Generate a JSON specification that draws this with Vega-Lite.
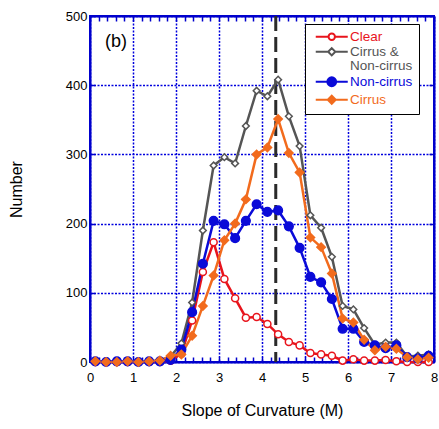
{
  "$schema": "https://vega.github.io/schema/vega-lite/v6.json",
  "width": 344,
  "height": 346,
  "autosize": {"type": "none"},
  "padding": {"left": 90, "top": 16, "right": 5, "bottom": 67},
  "background": "white",
  "config": {
    "view": {"stroke": "#0000cc", "strokeWidth": 2},
    "font": "Liberation Sans",
    "axis": {"labelFont": "Liberation Sans", "titleFont": "Liberation Sans", "labelColor": "black", "titleColor": "black", "titleFontWeight": "normal", "domainColor": "#0000cc", "domainWidth": 2, "tickColor": "#0000cc", "tickWidth": 1.5}
  },
  "datasets": {
    "pts": [
      {"x":0.125,"series":"Cirrus & Non-cirrus","n":1},{"x":0.375,"series":"Cirrus & Non-cirrus","n":0},{"x":0.625,"series":"Cirrus & Non-cirrus","n":1},{"x":0.875,"series":"Cirrus & Non-cirrus","n":1},
      {"x":1.125,"series":"Cirrus & Non-cirrus","n":0},{"x":1.375,"series":"Cirrus & Non-cirrus","n":1},{"x":1.625,"series":"Cirrus & Non-cirrus","n":2},{"x":1.875,"series":"Cirrus & Non-cirrus","n":8},
      {"x":2.125,"series":"Cirrus & Non-cirrus","n":27},{"x":2.375,"series":"Cirrus & Non-cirrus","n":86},{"x":2.625,"series":"Cirrus & Non-cirrus","n":190},{"x":2.875,"series":"Cirrus & Non-cirrus","n":284},
      {"x":3.125,"series":"Cirrus & Non-cirrus","n":296},{"x":3.375,"series":"Cirrus & Non-cirrus","n":287},{"x":3.625,"series":"Cirrus & Non-cirrus","n":341},{"x":3.875,"series":"Cirrus & Non-cirrus","n":392},
      {"x":4.125,"series":"Cirrus & Non-cirrus","n":384},{"x":4.375,"series":"Cirrus & Non-cirrus","n":408},{"x":4.625,"series":"Cirrus & Non-cirrus","n":355},{"x":4.875,"series":"Cirrus & Non-cirrus","n":312},
      {"x":5.125,"series":"Cirrus & Non-cirrus","n":212},{"x":5.375,"series":"Cirrus & Non-cirrus","n":194},{"x":5.625,"series":"Cirrus & Non-cirrus","n":152},{"x":5.875,"series":"Cirrus & Non-cirrus","n":81},
      {"x":6.125,"series":"Cirrus & Non-cirrus","n":76},{"x":6.375,"series":"Cirrus & Non-cirrus","n":49},{"x":6.625,"series":"Cirrus & Non-cirrus","n":25},{"x":6.875,"series":"Cirrus & Non-cirrus","n":28},
      {"x":7.125,"series":"Cirrus & Non-cirrus","n":28},{"x":7.375,"series":"Cirrus & Non-cirrus","n":8},{"x":7.625,"series":"Cirrus & Non-cirrus","n":9},{"x":7.875,"series":"Cirrus & Non-cirrus","n":11},

      {"x":0.125,"series":"Clear","n":0},{"x":0.375,"series":"Clear","n":0},{"x":0.625,"series":"Clear","n":0},{"x":0.875,"series":"Clear","n":0},
      {"x":1.125,"series":"Clear","n":0},{"x":1.375,"series":"Clear","n":0},{"x":1.625,"series":"Clear","n":0},{"x":1.875,"series":"Clear","n":2},
      {"x":2.125,"series":"Clear","n":12},{"x":2.375,"series":"Clear","n":60},{"x":2.625,"series":"Clear","n":130},{"x":2.875,"series":"Clear","n":173},
      {"x":3.125,"series":"Clear","n":120},{"x":3.375,"series":"Clear","n":92},{"x":3.625,"series":"Clear","n":64},{"x":3.875,"series":"Clear","n":65},
      {"x":4.125,"series":"Clear","n":55},{"x":4.375,"series":"Clear","n":40},{"x":4.625,"series":"Clear","n":29},{"x":4.875,"series":"Clear","n":24},
      {"x":5.125,"series":"Clear","n":13},{"x":5.375,"series":"Clear","n":11},{"x":5.625,"series":"Clear","n":9},{"x":5.875,"series":"Clear","n":2},
      {"x":6.125,"series":"Clear","n":4},{"x":6.375,"series":"Clear","n":2},{"x":6.625,"series":"Clear","n":2},{"x":6.875,"series":"Clear","n":3},
      {"x":7.125,"series":"Clear","n":1},{"x":7.375,"series":"Clear","n":0},{"x":7.625,"series":"Clear","n":0},{"x":7.875,"series":"Clear","n":0},

      {"x":0.125,"series":"Non-cirrus","n":1},{"x":0.375,"series":"Non-cirrus","n":0},{"x":0.625,"series":"Non-cirrus","n":1},{"x":0.875,"series":"Non-cirrus","n":1},
      {"x":1.125,"series":"Non-cirrus","n":0},{"x":1.375,"series":"Non-cirrus","n":1},{"x":1.625,"series":"Non-cirrus","n":1},{"x":1.875,"series":"Non-cirrus","n":3},
      {"x":2.125,"series":"Non-cirrus","n":18},{"x":2.375,"series":"Non-cirrus","n":72},{"x":2.625,"series":"Non-cirrus","n":142},{"x":2.875,"series":"Non-cirrus","n":204},
      {"x":3.125,"series":"Non-cirrus","n":199},{"x":3.375,"series":"Non-cirrus","n":179},{"x":3.625,"series":"Non-cirrus","n":204},{"x":3.875,"series":"Non-cirrus","n":228},
      {"x":4.125,"series":"Non-cirrus","n":217},{"x":4.375,"series":"Non-cirrus","n":219},{"x":4.625,"series":"Non-cirrus","n":196},{"x":4.875,"series":"Non-cirrus","n":165},
      {"x":5.125,"series":"Non-cirrus","n":123},{"x":5.375,"series":"Non-cirrus","n":115},{"x":5.625,"series":"Non-cirrus","n":91},{"x":5.875,"series":"Non-cirrus","n":48},
      {"x":6.125,"series":"Non-cirrus","n":48},{"x":6.375,"series":"Non-cirrus","n":29},{"x":6.625,"series":"Non-cirrus","n":24},{"x":6.875,"series":"Non-cirrus","n":20},
      {"x":7.125,"series":"Non-cirrus","n":24},{"x":7.375,"series":"Non-cirrus","n":7},{"x":7.625,"series":"Non-cirrus","n":5},{"x":7.875,"series":"Non-cirrus","n":9},

      {"x":0.125,"series":"Cirrus","n":1},{"x":0.375,"series":"Cirrus","n":0},{"x":0.625,"series":"Cirrus","n":0},{"x":0.875,"series":"Cirrus","n":1},
      {"x":1.125,"series":"Cirrus","n":0},{"x":1.375,"series":"Cirrus","n":1},{"x":1.625,"series":"Cirrus","n":2},{"x":1.875,"series":"Cirrus","n":9},
      {"x":2.125,"series":"Cirrus","n":11},{"x":2.375,"series":"Cirrus","n":38},{"x":2.625,"series":"Cirrus","n":81},{"x":2.875,"series":"Cirrus","n":125},
      {"x":3.125,"series":"Cirrus","n":176},{"x":3.375,"series":"Cirrus","n":200},{"x":3.625,"series":"Cirrus","n":235},{"x":3.875,"series":"Cirrus","n":300},
      {"x":4.125,"series":"Cirrus","n":310},{"x":4.375,"series":"Cirrus","n":351},{"x":4.625,"series":"Cirrus","n":302},{"x":4.875,"series":"Cirrus","n":274},
      {"x":5.125,"series":"Cirrus","n":180},{"x":5.375,"series":"Cirrus","n":166},{"x":5.625,"series":"Cirrus","n":128},{"x":5.875,"series":"Cirrus","n":63},
      {"x":6.125,"series":"Cirrus","n":57},{"x":6.375,"series":"Cirrus","n":32},{"x":6.625,"series":"Cirrus","n":17},{"x":6.875,"series":"Cirrus","n":22},
      {"x":7.125,"series":"Cirrus","n":19},{"x":7.375,"series":"Cirrus","n":7},{"x":7.625,"series":"Cirrus","n":4},{"x":7.875,"series":"Cirrus","n":6}
    ],
    "marker": [{"m": 4.32}],
    "panel": [{"label": "(b)"}]
  },
  "resolve": {"axis": {"x": "independent", "y": "independent"}},
  "layer": [
    {
      "data": {"name": "marker"},
      "mark": {"type": "rule", "stroke": "#2a2a2a", "strokeWidth": 3, "strokeDash": [15, 6]},
      "encoding": {
        "x": {"field": "m", "type": "quantitative", "scale": {"domain": [0, 8], "nice": false}, "axis": null}
      }
    },
    {
      "data": {"name": "pts"},
      "mark": {"type": "line", "strokeWidth": 2.5},
      "encoding": {
        "x": {"field": "x", "type": "quantitative", "scale": {"domain": [0, 8], "nice": false},
          "axis": {"orient": "bottom", "values": [0,0.2,0.4,0.6,0.8,1,1.2,1.4,1.6,1.8,2,2.2,2.4,2.6,2.8,3,3.2,3.4,3.6,3.8,4,4.2,4.4,4.6,4.8,5,5.2,5.4,5.6,5.8,6,6.2,6.4,6.6,6.8,7,7.2,7.4,7.6,7.8,8],
            "labelExpr": "abs(datum.value - round(datum.value)) < 0.01 ? format(datum.value, 'd') : ''",
            "labelFontSize": 13, "labelPadding": 14, "labelFlush": false, "labelOverlap": false,
            "tickSize": -5,
            "grid": true, "gridColor": "#0000dd", "gridDash": [2, 1.5], "gridWidth": 1.5,
            "gridOpacity": {"condition": {"test": "abs(datum.value - round(datum.value)) < 0.01", "value": 1}, "value": 0},
            "title": "Slope of Curvature (M)", "titleFontSize": 16, "titlePadding": 18}},
        "y": {"field": "n", "type": "quantitative", "scale": {"domain": [0, 500], "nice": false},
          "axis": {"orient": "left", "values": [0,100,200,300,400,500], "labelFontSize": 13, "labelPadding": 8,
            "tickSize": -5, "grid": true, "gridColor": "#0000dd", "gridDash": [2, 1.5], "gridWidth": 1.5,
            "title": "Number", "titleFontSize": 16, "titlePadding": 41}},
        "stroke": {"field": "series", "type": "nominal",
          "scale": {"domain": ["Clear", "Cirrus & Non-cirrus", "Non-cirrus", "Cirrus"], "range": ["#e8141c", "#555555", "#0a0ad8", "#f26b1d"]},
          "legend": {
            "orient": "none", "legendX": 215, "legendY": 8, "title": null,
            "fillColor": "white", "strokeColor": "black", "padding": 6,
            "symbolSize": 64, "symbolStrokeWidth": 2, "symbolOffset": 14, "labelOffset": 30,
            "labelFont": "Liberation Sans", "labelFontSize": 13.5, "labelLimit": 300, "rowPadding": 0,
            "labelExpr": "datum.value == 'Cirrus & Non-cirrus' ? ['Cirrus &', 'Non-cirrus'] : datum.label",
            "encode": {
              "symbols": {"update": {
                "shape": {"signal": "datum.value == 'Clear' ? 'M-4,0H-0.8M0.8,0H4M0.8,0A0.8,0.8,0,1,1,-0.8,0A0.8,0.8,0,1,1,0.8,0Z' : datum.value == 'Cirrus & Non-cirrus' ? 'M-4,0H-0.9M0.9,0H4M0,-0.9L0.9,0L0,0.9L-0.9,0Z' : datum.value == 'Non-cirrus' ? 'M-4,0H4M1.1,0A1.1,1.1,0,1,1,-1.1,0A1.1,1.1,0,1,1,1.1,0Z' : 'M-4,0H4M0,-1L1,0L0,1L-1,0Z'"},
                "fill": {"signal": "datum.value == 'Clear' || datum.value == 'Cirrus & Non-cirrus' ? 'white' : scale('stroke', datum.value)"},
                "stroke": {"scale": "stroke", "field": "value"},
                "opacity": {"value": 1}
              }},
              "labels": {"update": {"fill": {"scale": "stroke", "field": "value"}, "x": {"value": 39}, "align": {"value": "left"}, "lineHeight": {"value": 14.5}}}
            }
          }
        }
      }
    },
    {
      "data": {"name": "pts"},
      "transform": [{"filter": "datum.series == 'Cirrus & Non-cirrus'"}],
      "mark": {"type": "point", "shape": "diamond", "fill": "#ffffff", "stroke": "#555555", "strokeWidth": 1.5, "size": 45, "opacity": 1, "fillOpacity": 1},
      "encoding": {
        "x": {"field": "x", "type": "quantitative", "scale": {"domain": [0, 8], "nice": false},
          "axis": {"orient": "top", "values": [0,0.2,0.4,0.6,0.8,1,1.2,1.4,1.6,1.8,2,2.2,2.4,2.6,2.8,3,3.2,3.4,3.6,3.8,4,4.2,4.4,4.6,4.8,5,5.2,5.4,5.6,5.8,6,6.2,6.4,6.6,6.8,7,7.2,7.4,7.6,7.8,8],
            "labels": false, "tickSize": -5, "grid": false, "title": null}},
        "y": {"field": "n", "type": "quantitative", "scale": {"domain": [0, 500], "nice": false},
          "axis": {"orient": "right", "values": [0,100,200,300,400,500], "labels": false, "tickSize": -5, "grid": false, "title": null}}
      }
    },
    {
      "data": {"name": "pts"},
      "transform": [{"filter": "datum.series == 'Clear'"}],
      "mark": {"type": "point", "shape": "circle", "fill": "#ffffff", "stroke": "#e8141c", "strokeWidth": 1.5, "size": 50, "opacity": 1, "fillOpacity": 1},
      "encoding": {
        "x": {"field": "x", "type": "quantitative", "axis": null},
        "y": {"field": "n", "type": "quantitative", "axis": null}
      }
    },
    {
      "data": {"name": "pts"},
      "transform": [{"filter": "datum.series == 'Non-cirrus'"}],
      "mark": {"type": "point", "shape": "circle", "fill": "#0a0ad8", "stroke": "#0a0ad8", "strokeWidth": 1.5, "size": 75, "opacity": 1, "fillOpacity": 1},
      "encoding": {
        "x": {"field": "x", "type": "quantitative", "axis": null},
        "y": {"field": "n", "type": "quantitative", "axis": null}
      }
    },
    {
      "data": {"name": "pts"},
      "transform": [{"filter": "datum.series == 'Cirrus'"}],
      "mark": {"type": "point", "shape": "diamond", "fill": "#f26b1d", "stroke": "#f26b1d", "strokeWidth": 1.5, "size": 70, "opacity": 1, "fillOpacity": 1},
      "encoding": {
        "x": {"field": "x", "type": "quantitative", "axis": null},
        "y": {"field": "n", "type": "quantitative", "axis": null}
      }
    },
    {
      "data": {"name": "panel"},
      "mark": {"type": "text", "align": "left", "baseline": "middle", "fontSize": 18, "font": "Liberation Sans", "color": "black"},
      "encoding": {
        "text": {"field": "label"},
        "x": {"datum": 0.35, "axis": null},
        "y": {"datum": 462, "axis": null}
      }
    }
  ]
}
